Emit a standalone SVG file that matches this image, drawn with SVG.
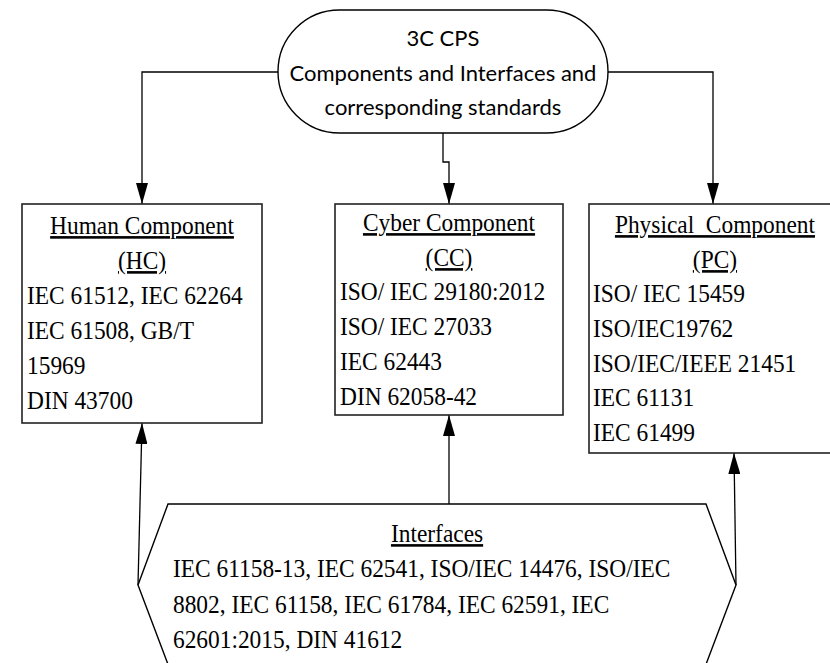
<svg xmlns="http://www.w3.org/2000/svg" width="830" height="663" viewBox="0 0 830 663">
<style>
.shape{fill:#fff;stroke:#000;stroke-width:1.4}
.box{fill:#fff;stroke:#222;stroke-width:1.6}
.conn{fill:none;stroke:#000;stroke-width:1.3}
.top{font-family:Lato,"Open Sans",sans-serif;font-size:22px;fill:#000;text-anchor:middle}
.t{font-family:"Liberation Serif","Times New Roman",serif;font-size:26px;fill:#000}
.c{text-anchor:middle;text-decoration:underline}
</style>
<defs>
<marker id="arr" markerWidth="21" markerHeight="12" refX="21" refY="6" viewBox="0 0 21 12" orient="auto" markerUnits="userSpaceOnUse">
<path d="M0,0 L21,6 L0,12 Z" fill="#000"/>
</marker>
</defs>
<rect width="830" height="663" fill="#fff"/>

<g id="connectors">
<path class="conn" d="M278,72 H142 V204" marker-end="url(#arr)"/>
<path class="conn" d="M608,72 H713 V204" marker-end="url(#arr)"/>
<path class="conn" d="M443,133 V162 H449 V204" marker-end="url(#arr)"/>
<path class="conn" d="M138,585 L142,423" marker-end="url(#arr)"/>
<path class="conn" d="M449,504 V415" marker-end="url(#arr)"/>
<path class="conn" d="M736,585 L734,453" marker-end="url(#arr)"/>
</g>

<g id="root">
<rect class="shape" x="278" y="10" width="330" height="123" rx="61.5" ry="61.5"/>
<text class="top" x="443" y="46">3C CPS</text>
<text class="top" x="443" y="81">Components and Interfaces and</text>
<text class="top" x="443" y="115">corresponding standards</text>
</g>

<g id="hc">
<rect class="box" x="22" y="204" width="240" height="219"/>
<g transform="scale(0.9 1)">
<text class="t c" x="157.8" y="234">Human Component</text>
<text class="t c" x="157.8" y="269">(HC)</text>
<text class="t" x="30" y="304">IEC 61512, IEC 62264</text>
<text class="t" x="30" y="339">IEC 61508, GB/T</text>
<text class="t" x="30" y="374">15969</text>
<text class="t" x="30" y="409">DIN 43700</text>
</g>
</g>

<g id="cc">
<rect class="box" x="335" y="204" width="228" height="211"/>
<g transform="scale(0.9 1)">
<text class="t c" x="498.9" y="231">Cyber Component</text>
<text class="t c" x="498.9" y="266">(CC)</text>
<text class="t" x="377.8" y="300">ISO/ IEC 29180:2012</text>
<text class="t" x="377.8" y="335">ISO/ IEC 27033</text>
<text class="t" x="377.8" y="370">IEC 62443</text>
<text class="t" x="377.8" y="405">DIN 62058-42</text>
</g>
</g>

<g id="pc">
<rect class="box" x="589" y="204" width="252" height="249"/>
<g transform="scale(0.9 1)">
<text class="t c" x="794.4" y="233" xml:space="preserve">Physical  Component</text>
<text class="t c" x="794.4" y="268">(PC)</text>
<text class="t" x="658.9" y="302">ISO/ IEC 15459</text>
<text class="t" x="658.9" y="337">ISO/IEC19762</text>
<text class="t" x="658.9" y="372">ISO/IEC/IEEE 21451</text>
<text class="t" x="658.9" y="406">IEC 61131</text>
<text class="t" x="658.9" y="441">IEC 61499</text>
</g>
</g>

<g id="interfaces">
<path class="shape" d="M168,504 H706 L736,585 L705,667 H169 L138,585 Z"/>
<g transform="scale(0.9 1)">
<text class="t c" x="485.6" y="542">Interfaces</text>
<text class="t" x="192.2" y="577">IEC 61158-13, IEC 62541, ISO/IEC 14476, ISO/IEC</text>
<text class="t" x="192.2" y="613">8802, IEC 61158, IEC 61784, IEC 62591, IEC</text>
<text class="t" x="192.2" y="648">62601:2015, DIN 41612</text>
</g>
</g>
</svg>
